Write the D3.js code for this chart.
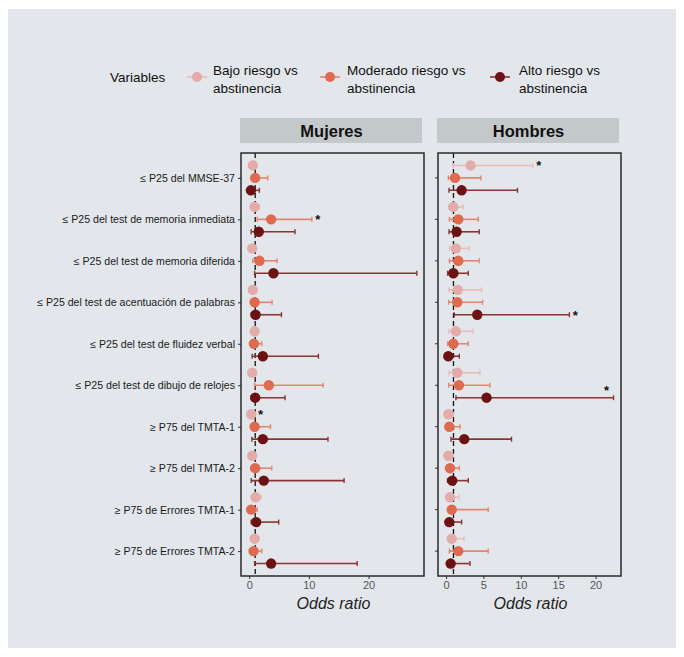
<!DOCTYPE html>
<html>
<head>
<meta charset="utf-8">
<script src="https://cdn.jsdelivr.net/npm/d3@7/dist/d3.min.js"></script>
<style>
  html, body { margin: 0; padding: 0; background: #ffffff; }
  svg { display: block; font-family: "Liberation Sans", Arial, sans-serif; }
</style>
</head>
<body>
<svg id="chart" width="684" height="657"></svg>
<script>
// Cognitive outcomes (rows) by drinking-risk group, separately for women and men
const categories = [
  "≤ P25 del MMSE-37",
  "≤ P25 del test de memoria inmediata",
  "≤ P25 del test de memoria diferida",
  "≤ P25 del test de acentuación de palabras",
  "≤ P25 del test de fluidez verbal",
  "≤ P25 del test de dibujo de relojes",
  "≥ P75 del TMTA-1",
  "≥ P75 del TMTA-2",
  "≥ P75 de Errores TMTA-1",
  "≥ P75 de Errores TMTA-2"
];
const groups = ["Bajo riesgo vs abstinencia", "Moderado riesgo vs abstinencia", "Alto riesgo vs abstinencia"];
const panels = ["Mujeres", "Hombres"];

// Odds ratios and 95% CI, one array per panel and group, in category order
const mujeresBajoOR   = [0.60, 0.90, 0.50, 0.60, 0.90, 0.50, 0.33, 0.50, 1.06, 0.90];
const mujeresBajoLo   = [0.35, 0.50, 0.25, 0.30, 0.50, 0.25, 0.10, 0.25, 0.50, 0.50];
const mujeresBajoHi   = [1.00, 1.70, 0.90, 1.00, 1.30, 0.90, 0.90, 0.95, 2.00, 1.60];
const mujeresModOR    = [1.00, 3.67, 1.72, 0.90, 0.78, 3.28, 0.90, 1.00, 0.33, 0.72];
const mujeresModLo    = [0.40, 1.33, 0.60, 0.30, 0.40, 0.90, 0.30, 0.30, 0.10, 0.30];
const mujeresModHi    = [3.10, 10.5, 4.67, 3.83, 2.10, 12.4, 3.56, 3.78, 1.33, 2.10];
const mujeresAltoOR   = [0.28, 1.60, 4.06, 1.06, 2.28, 1.00, 2.28, 2.44, 1.17, 3.67];
const mujeresAltoLo   = [0.05, 0.33, 0.90, 0.33, 0.50, 0.33, 0.44, 0.33, 0.33, 0.90];
const mujeresAltoHi   = [1.70, 7.67, 28.1, 5.40, 11.6, 6.00, 13.2, 15.9, 4.94, 18.1];

const hombresBajoOR   = [3.29, 0.98, 1.33, 1.56, 1.33, 1.51, 0.31, 0.31, 0.53, 0.76];
const hombresBajoLo   = [0.98, 0.40, 0.50, 0.40, 0.40, 0.40, 0.10, 0.10, 0.20, 0.30];
const hombresBajoHi   = [11.6, 2.31, 3.11, 4.76, 3.64, 4.53, 0.98, 0.90, 1.73, 2.40];
const hombresModOR    = [1.20, 1.64, 1.64, 1.51, 0.98, 1.73, 0.44, 0.53, 0.76, 1.64];
const hombresModLo    = [0.31, 0.45, 0.45, 0.35, 0.22, 0.35, 0.10, 0.15, 0.30, 0.45];
const hombresModHi    = [4.67, 4.31, 4.44, 4.89, 2.98, 5.87, 1.87, 1.78, 5.64, 5.64];
const hombresAltoOR   = [2.09, 1.42, 0.98, 4.18, 0.31, 5.42, 2.44, 0.84, 0.44, 0.62];
const hombresAltoLo   = [0.40, 0.40, 0.22, 1.11, 0.10, 1.33, 0.67, 0.20, 0.15, 0.15];
const hombresAltoHi   = [9.56, 4.44, 2.98, 16.5, 1.78, 22.4, 8.76, 2.98, 2.09, 3.20];

// Significant estimates marked with an asterisk: [panel, category index, group index]
const significant = [
  ["Mujeres", 1, 1],
  ["Mujeres", 6, 0],
  ["Hombres", 0, 0],
  ["Hombres", 3, 2],
  ["Hombres", 5, 2]
];

const xTicksMujeres = [0, 10, 20];
const xTicksHombres = [0, 5, 10, 15, 20];

const groupColors = ["#e3aba9", "#df6a4f", "#6d1212"];
const lineColors  = ["#e9bcba", "#e2876f", "#8a3434"];

// Build tidy rows from the arrays
const table = {
  Mujeres: [[mujeresBajoOR, mujeresBajoLo, mujeresBajoHi], [mujeresModOR, mujeresModLo, mujeresModHi], [mujeresAltoOR, mujeresAltoLo, mujeresAltoHi]],
  Hombres: [[hombresBajoOR, hombresBajoLo, hombresBajoHi], [hombresModOR, hombresModLo, hombresModHi], [hombresAltoOR, hombresAltoLo, hombresAltoHi]]
};
function rowsFor(panel) {
  const out = [];
  table[panel].forEach((arrs, g) => {
    categories.forEach((c, i) => {
      out.push({ cat: c, ci: i, g, or: arrs[0][i], lo: arrs[1][i], hi: arrs[2][i] });
    });
  });
  return out;
}

const svg = d3.select("#chart");
const FONT = "'Liberation Sans', Arial, sans-serif";

// Card background
svg.append("rect").attr("x", 8).attr("y", 9).attr("width", 668).attr("height", 639).attr("fill", "#e3e7eb");

// Legend
const legend = svg.append("g");
legend.append("text").attr("x", 110).attr("y", 82).attr("font-size", 13.5).attr("fill", "#111").text("Variables");
const legendPos = [{ cx: 197, tx: 213 }, { cx: 330, tx: 347 }, { cx: 500, tx: 519 }];
groups.forEach((g, i) => {
  const p = legendPos[i];
  legend.append("line").attr("x1", p.cx - 10).attr("x2", p.cx + 10).attr("y1", 77).attr("y2", 77)
    .attr("stroke", lineColors[i]).attr("stroke-width", 1.6);
  legend.append("circle").attr("cx", p.cx).attr("cy", 77).attr("r", 5).attr("fill", groupColors[i]);
  const words = g.split(" ");
  const t = legend.append("text").attr("font-size", 13.5).attr("fill", "#111");
  t.append("tspan").attr("x", p.tx).attr("y", 75).text(words.slice(0, 3).join(" "));
  t.append("tspan").attr("x", p.tx).attr("y", 93).text(words.slice(3).join(" "));
});

// Panel layout
const panelTop = 153, panelBottom = 576;
const panelBoxes = {
  Mujeres: { x0: 241, x1: 424, domain: [-1.38, 29.3], ticks: xTicksMujeres },
  Hombres: { x0: 438, x1: 621, domain: [-1.07, 23.4], ticks: xTicksHombres }
};

const y = d3.scaleBand().domain(categories).range([panelTop, panelBottom]).paddingOuter(0.1).paddingInner(0);

// Y axis labels on the left of the first panel
const yAxis = d3.axisLeft(d3.scalePoint().domain(categories).range([y(categories[0]) + y.bandwidth() / 2, y(categories[categories.length - 1]) + y.bandwidth() / 2]))
  .tickSize(3).tickPadding(3);
const yAxisG = svg.append("g").attr("transform", `translate(${panelBoxes.Mujeres.x0},0)`).call(yAxis);
yAxisG.select(".domain").remove();
yAxisG.selectAll("text").attr("font-size", 10.6).attr("fill", "#1a1a1a").attr("font-family", FONT);
yAxisG.selectAll("line").attr("stroke", "#333");

panels.forEach(panel => {
  const box = panelBoxes[panel];
  const x = d3.scaleLinear().domain(box.domain).range([box.x0, box.x1]);
  const g = svg.append("g");

  // Strip header
  g.append("rect").attr("x", box.x0 - 1).attr("y", 118).attr("width", box.x1 - box.x0 - 1).attr("height", 25).attr("fill", "#c3c8cb");
  g.append("text").attr("x", (box.x0 + box.x1) / 2 - 1).attr("y", 137).attr("text-anchor", "middle")
    .attr("font-size", 16.5).attr("font-weight", "bold").attr("fill", "#111").text(panel);

  // Y ticks for second panel (no labels)
  if (panel === "Hombres") {
    categories.forEach(c => {
      g.append("line").attr("x1", box.x0 - 3).attr("x2", box.x0).attr("y1", y(c) + y.bandwidth() / 2).attr("y2", y(c) + y.bandwidth() / 2)
        .attr("stroke", "#333");
    });
  }

  // Reference line at OR = 1
  g.append("line").attr("x1", x(1)).attr("x2", x(1)).attr("y1", panelTop).attr("y2", panelBottom)
    .attr("stroke", "#111").attr("stroke-width", 1.3).attr("stroke-dasharray", "5,3");

  const rows = rowsFor(panel);
  const cy = d => y(d.cat) + y.bandwidth() / 2 + (d.g - 1) * y.bandwidth() * 0.3;

  // Confidence intervals with end caps
  const eb = g.append("g").selectAll("g").data(rows).join("g");
  eb.append("line").attr("x1", d => x(d.lo)).attr("x2", d => x(d.hi)).attr("y1", cy).attr("y2", cy)
    .attr("stroke", d => lineColors[d.g]).attr("stroke-width", 1.6);
  eb.append("line").attr("x1", d => x(d.lo)).attr("x2", d => x(d.lo)).attr("y1", d => cy(d) - 2.5).attr("y2", d => cy(d) + 2.5)
    .attr("stroke", d => lineColors[d.g]).attr("stroke-width", 1.4);
  eb.append("line").attr("x1", d => x(d.hi)).attr("x2", d => x(d.hi)).attr("y1", d => cy(d) - 2.5).attr("y2", d => cy(d) + 2.5)
    .attr("stroke", d => lineColors[d.g]).attr("stroke-width", 1.4);

  // Point estimates
  g.append("g").selectAll("circle").data(rows).join("circle")
    .attr("cx", d => x(d.or)).attr("cy", cy).attr("r", 5.2).attr("fill", d => groupColors[d.g]);

  // Significance asterisks
  significant.filter(s => s[0] === panel).forEach(s => {
    const d = rows.find(r => r.ci === s[1] && r.g === s[2]);
    let sx = x(d.hi) + 6, sy = cy(d) + 5;
    if (sx > box.x1 - 8) { sx = x(d.hi) - 7; sy = cy(d) - 3; }
    g.append("text").attr("x", sx).attr("y", sy).attr("font-size", 13).attr("font-weight", "bold")
      .attr("fill", "#111").attr("text-anchor", "middle").text("*");
  });

  // Panel border
  g.append("rect").attr("x", box.x0).attr("y", panelTop).attr("width", box.x1 - box.x0).attr("height", panelBottom - panelTop)
    .attr("fill", "none").attr("stroke", "#2a2a2a").attr("stroke-width", 1.5);

  // X axis
  const xAxis = d3.axisBottom(x).tickValues(box.ticks).tickSize(3).tickPadding(2);
  const xg = g.append("g").attr("transform", `translate(0,${panelBottom})`).call(xAxis);
  xg.select(".domain").remove();
  xg.selectAll("line").attr("stroke", "#333");
  xg.selectAll("text").attr("font-size", 11).attr("fill", "#555").attr("font-family", FONT);

  g.append("text").attr("x", (box.x0 + box.x1) / 2 + 1).attr("y", 609).attr("text-anchor", "middle")
    .attr("font-size", 16).attr("font-style", "italic").attr("fill", "#222").text("Odds ratio");
});
</script>
</body>
</html>
